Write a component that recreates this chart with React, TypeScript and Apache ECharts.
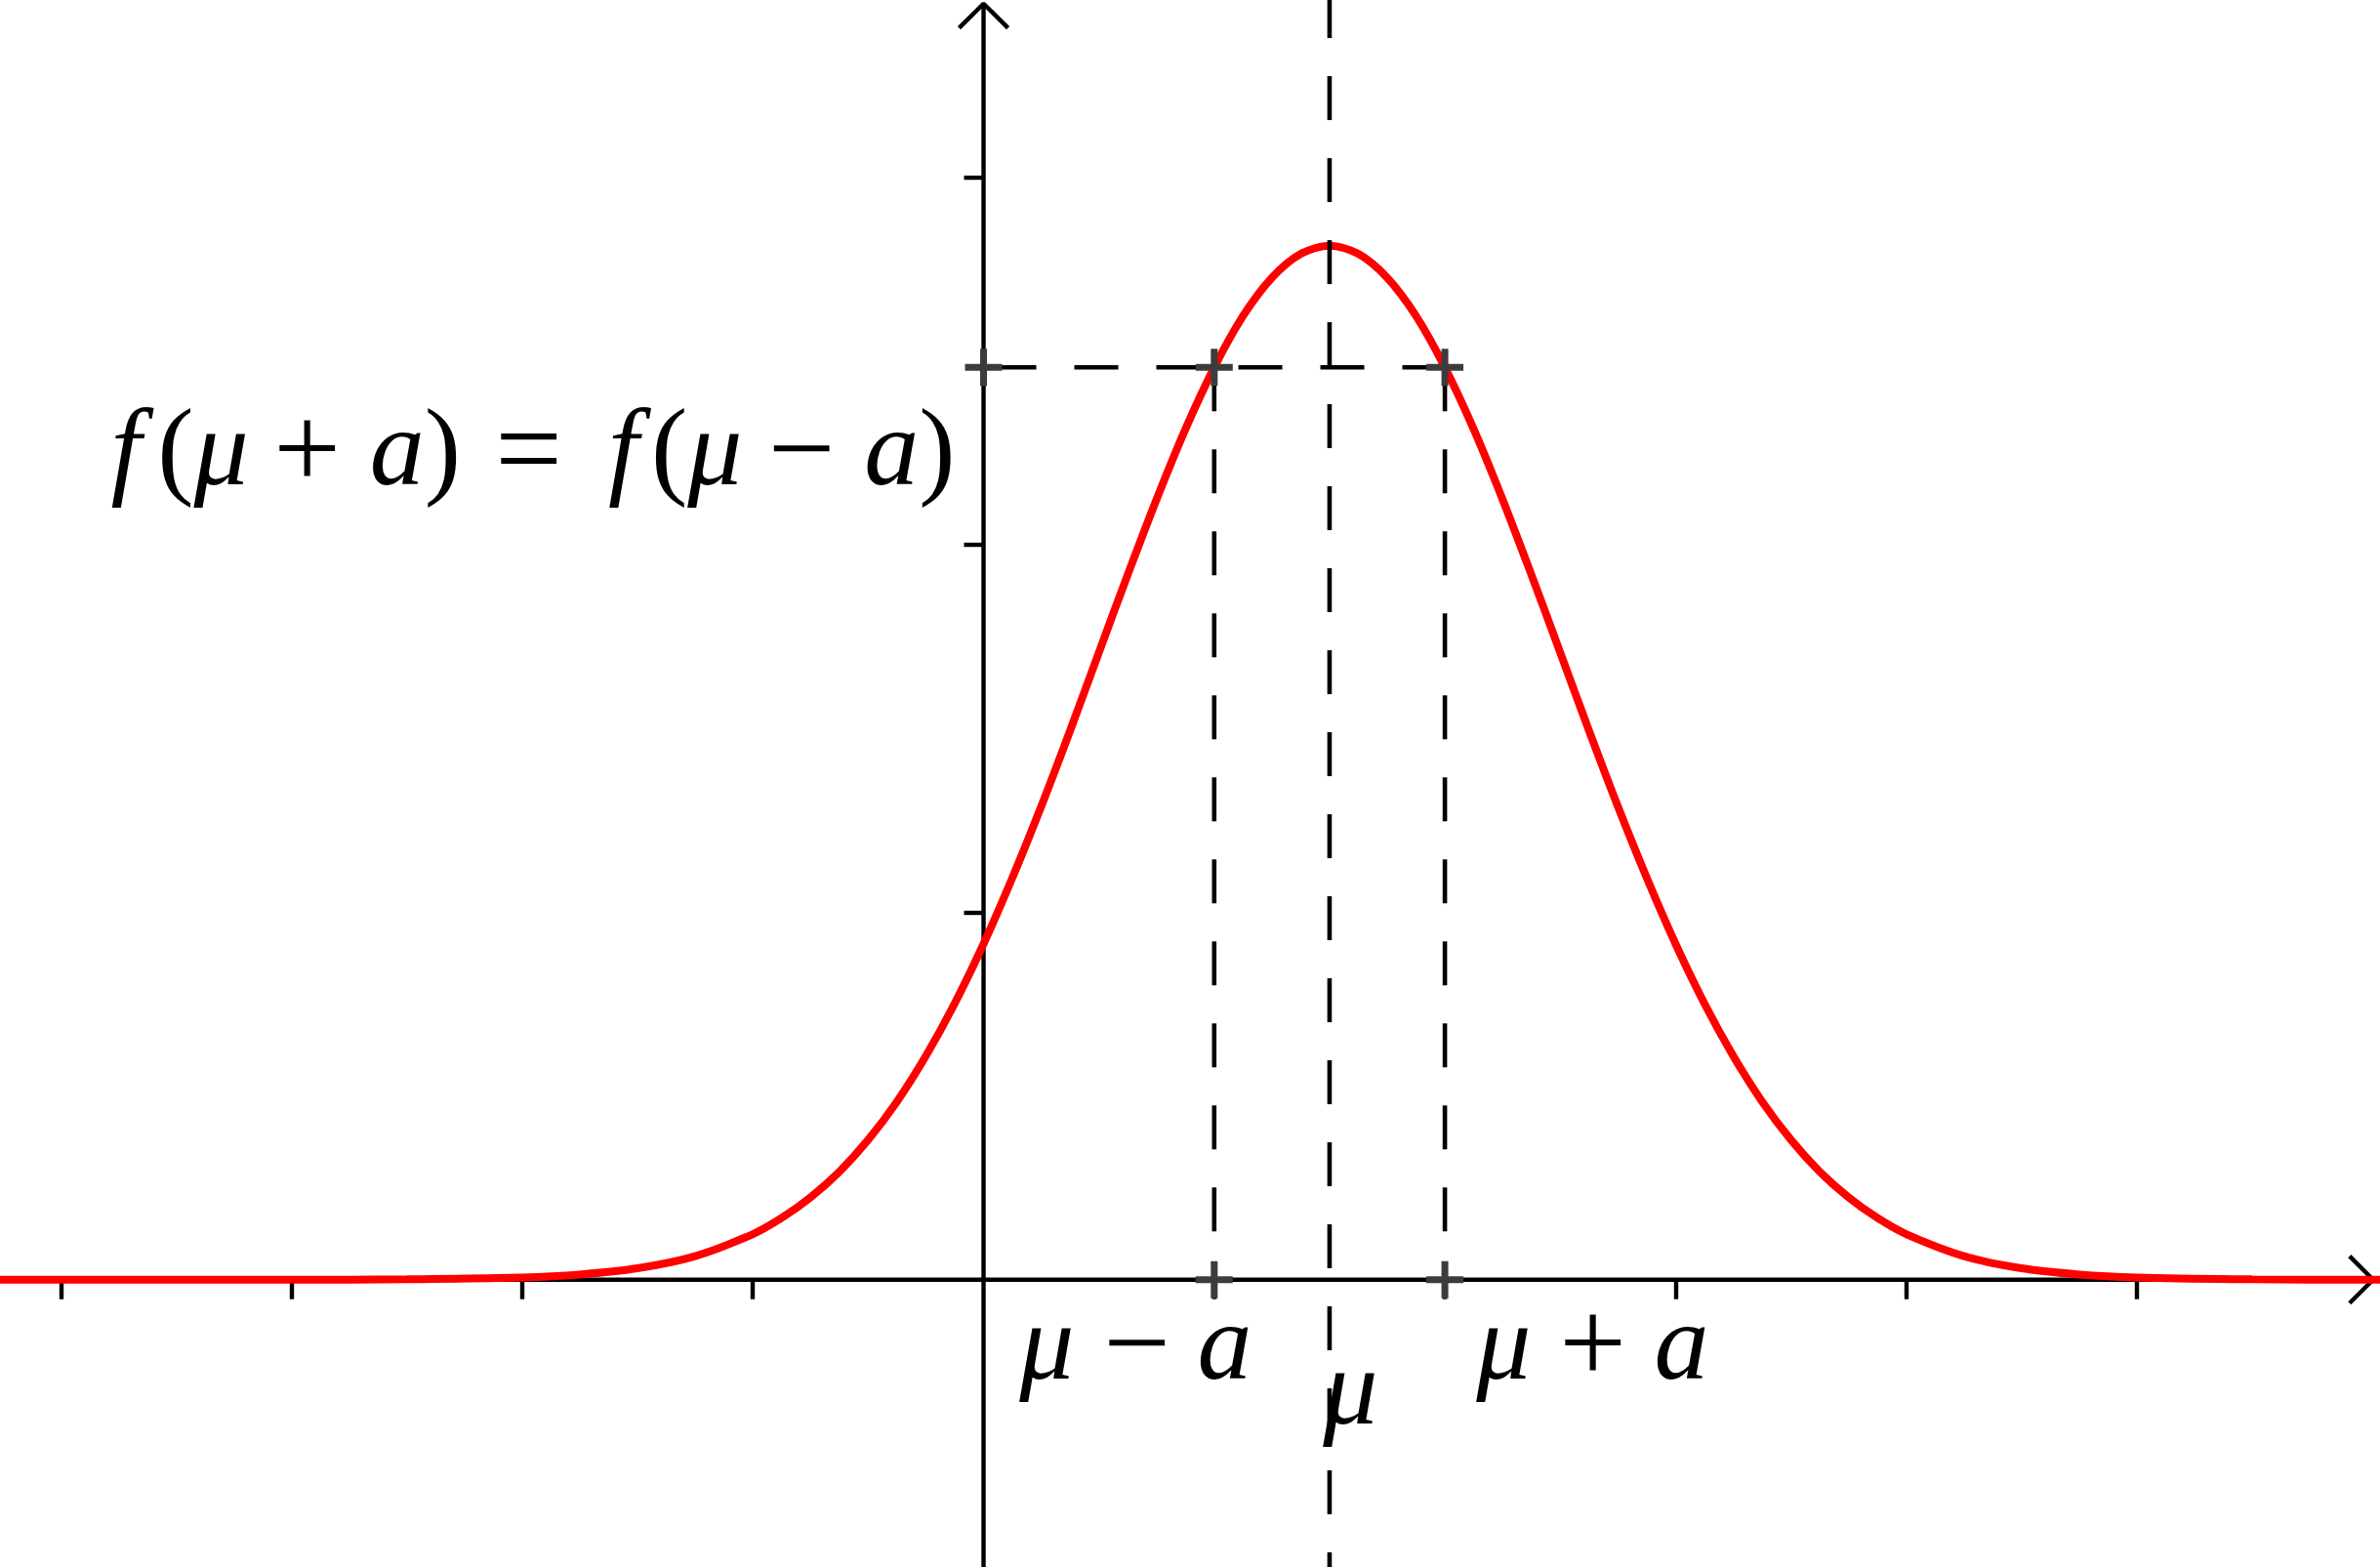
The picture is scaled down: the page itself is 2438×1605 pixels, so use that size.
import React, { useEffect, useRef } from "react";
import * as echarts from "echarts";

// Visible window of the coordinate plane (axis units)
const X_MIN = -4.264;
const X_MAX = 6.054;
const Y_MIN = -0.782;
const Y_MAX = 3.483;
// Axis arrow tips
const X_TIP = 6.024;
const Y_TIP = 3.473;

// Tick positions (no tick labels in the figure)
const xTickValues = [-4, -3, -2, -1, 1, 2, 3, 4, 5];
const yTickValues = [1, 2, 3];

// Bell curve
const curveX = [
  -4.3, -3.5, -3, -2.5, -2, -1.75, -1.5, -1.25, -1, -0.875, -0.75, -0.625, -0.5, -0.375, -0.25, -0.125,
  0, 0.125, 0.25, 0.375, 0.5, 0.625, 0.75, 0.875, 1, 1.125, 1.25, 1.375, 1.5, 1.625, 1.75, 1.875,
  2, 2.125, 2.25, 2.375, 2.5, 2.625, 2.75, 2.875, 3, 3.125, 3.25, 3.375, 3.5, 3.625, 3.75, 3.875,
  4, 4.25, 4.5, 4.75, 5, 5.5, 6, 6.5,
];
const curveY = [
  0, 0, 0, 0.001, 0.006, 0.014, 0.031, 0.064, 0.124, 0.168, 0.224, 0.294, 0.381, 0.485, 0.609, 0.752,
  0.914, 1.094, 1.288, 1.494, 1.707, 1.919, 2.124, 2.315, 2.483, 2.623, 2.727, 2.792, 2.814, 2.792, 2.727, 2.623,
  2.483, 2.315, 2.124, 1.919, 1.707, 1.494, 1.288, 1.094, 0.914, 0.752, 0.609, 0.485, 0.381, 0.294, 0.224, 0.168,
  0.124, 0.064, 0.031, 0.014, 0.006, 0.001, 0, 0,
];

// Key values
const MU = 1.5;
const A = 0.5;
const LEVEL = 2.483; // f(mu + a) = f(mu - a)

// Marked points (crosses)
const crossX = [0, MU - A, MU + A, MU - A, MU + A];
const crossY = [LEVEL, LEVEL, LEVEL, 0, 0];

// Text labels: glyphs, italic flag, left gap before glyph (px)
type Glyph = [string, boolean, number];
const formulaGlyphs: Glyph[] = [
  ["f", true, 0], ["(", false, 16.8], ["μ", true, 0], ["+", false, 25.4], ["a", true, 29.6], [")", false, 0],
  ["=", false, 35.3], ["f", true, 47], ["(", false, 12.8], ["μ", true, 0], ["−", false, 26.4], ["a", true, 29.6], [")", false, 0],
];
const muMinusAGlyphs: Glyph[] = [["μ", true, 0], ["−", false, 29.8], ["a", true, 27.6]];
const muGlyphs: Glyph[] = [["μ", true, 0]];
const muPlusAGlyphs: Glyph[] = [["μ", true, 0], ["+", false, 28.8], ["a", true, 28.6]];

const FONT = "Liberation Serif";
const FS = 112;
const FS_OP = 122;

function richLabel(glyphs: Glyph[], left: number, baseline: number) {
  const rich: Record<string, any> = {};
  let text = "";
  glyphs.forEach(([g, italic, gap], k) => {
    const isOp = g === "+" || g === "−" || g === "=";
    const fs = isOp ? FS_OP : FS;
    rich["t" + k] = {
      fontFamily: FONT,
      fontStyle: italic ? "italic" : "normal",
      fontSize: fs,
      lineHeight: fs * 1.2,
      color: "#000",
      fill: "#000",
      padding: [0, 0, 0, gap],
    };
    text += "{t" + k + "|" + g + "}";
  });
  return {
    type: "text",
    x: left,
    y: baseline - 0.3375 * FS,
    z: 100,
    style: {
      text,
      rich,
      fontFamily: FONT,
      fontSize: FS,
      align: "left",
      verticalAlign: "middle",
      fill: "#000",
    },
  };
}

const App: React.FC = () => {
  const ref = useRef<HTMLDivElement>(null);

  useEffect(() => {
    document.body.style.margin = "0";
    document.body.style.overflow = "hidden";
    if (!ref.current) return;
    const chart = echarts.init(ref.current, undefined, { renderer: "svg" });

    const axisStyle = { color: "#000", width: 4.4 };
    const dashStyle = { color: "#000", width: 4.6, type: [45, 39] as number[] };
    const arrowDX = 0.102;
    const arrowDYx = 0.064;
    const arrowDXy = 0.106;
    const arrowDYy = 0.066;

    const crossPath = "path://M15.5,0h7v15.5h15.5v7h-15.5v15.5h-7v-15.5h-15.5v-7h15.5z";

    const baseLine = {
      type: "line",
      symbol: "none",
      silent: true,
      animation: false,
    };

    chart.setOption({
      animation: false,
      backgroundColor: "#fff",
      grid: { left: 0, right: 0, top: 0, bottom: 0, containLabel: false },
      xAxis: {
        type: "value",
        min: X_MIN,
        max: X_MAX,
        splitLine: { show: false },
        axisLabel: { show: false },
        axisLine: { show: true, onZero: true, lineStyle: { opacity: 0 } },
        axisTick: {
          show: true,
          inside: false,
          length: 20,
          customValues: xTickValues,
          lineStyle: { color: "#000", width: 4.4 },
        },
      },
      yAxis: {
        type: "value",
        min: Y_MIN,
        max: Y_MAX,
        splitLine: { show: false },
        axisLabel: { show: false },
        axisLine: { show: true, onZero: true, lineStyle: { opacity: 0 } },
        axisTick: {
          show: true,
          inside: false,
          length: 20,
          customValues: yTickValues,
          lineStyle: { color: "#000", width: 4.4 },
        },
      },
      series: [
        // axes lines
        { ...baseLine, z: 1, data: [[X_MIN, 0], [X_TIP, 0]], lineStyle: axisStyle },
        { ...baseLine, z: 1, data: [[0, Y_MIN], [0, Y_TIP]], lineStyle: axisStyle },
        // arrow heads
        {
          ...baseLine,
          z: 1,
          data: [[X_TIP - arrowDX, arrowDYx], [X_TIP, 0], [X_TIP - arrowDX, -arrowDYx]],
          lineStyle: axisStyle,
        },
        {
          ...baseLine,
          z: 1,
          data: [[-arrowDXy, Y_TIP - arrowDYy], [0, Y_TIP], [arrowDXy, Y_TIP - arrowDYy]],
          lineStyle: axisStyle,
        },
        // bell curve
        {
          ...baseLine,
          z: 2,
          smooth: 0.3,
          data: curveX.map((x, i) => [x, curveY[i]]),
          lineStyle: { color: "#ff0000", width: 8 },
        },
        // dashed lines
        {
          ...baseLine,
          z: 3,
          data: [[MU, Y_MAX], [MU, Y_MIN]],
          lineStyle: { ...dashStyle, dashOffset: 6 },
        },
        {
          ...baseLine,
          z: 3,
          data: [[MU - A, LEVEL], [MU - A, 0]],
          lineStyle: dashStyle,
        },
        {
          ...baseLine,
          z: 3,
          data: [[MU + A, LEVEL], [MU + A, 0]],
          lineStyle: dashStyle,
        },
        {
          ...baseLine,
          z: 3,
          data: [[0, LEVEL], [MU + A, LEVEL]],
          lineStyle: { ...dashStyle, dashOffset: 75 },
        },
        // crosses
        {
          type: "scatter",
          silent: true,
          z: 10,
          symbol: crossPath,
          symbolSize: 38,
          itemStyle: { color: "#3c3c3c", opacity: 1 },
          data: crossX.map((x, i) => [x, crossY[i]]),
        },
      ],
      graphic: [
        richLabel(formulaGlyphs, 113.4, 496),
        richLabel(muMinusAGlyphs, 1044.2, 1412),
        richLabel(muGlyphs, 1355.2, 1458),
        richLabel(muPlusAGlyphs, 1512.2, 1412),
      ],
    });

    return () => chart.dispose();
  }, []);

  return (
    <div
      ref={ref}
      style={{ position: "absolute", left: 0, top: 0, width: 2438, height: 1605 }}
    />
  );
};

export default App;
